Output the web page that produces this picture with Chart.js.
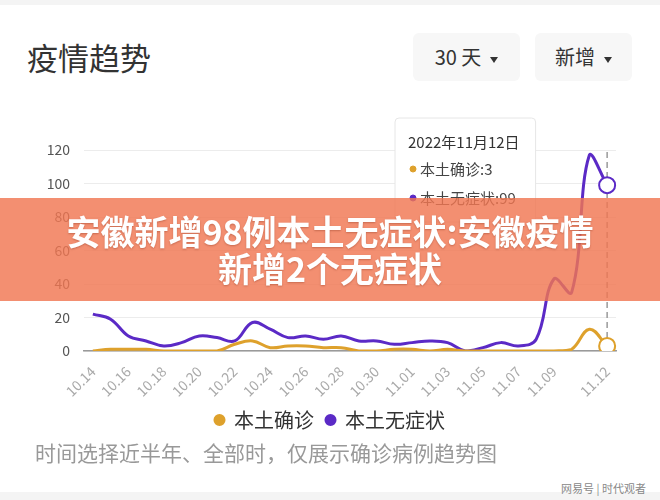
<!DOCTYPE html>
<html>
<head>
<meta charset="utf-8">
<script src="https://cdn.jsdelivr.net/npm/chart.js@4.4.0/dist/chart.umd.min.js"></script>
<style>
  html, body { margin:0; padding:0; }
  body { width:660px; height:500px; position:relative; overflow:hidden; background:#fff;
         font-family:"Noto Sans CJK SC","Noto Sans",sans-serif; }
  .strip { position:absolute; left:0; width:660px; background:#f4f4f4; }
  .title { position:absolute; left:27px; top:37px; font-size:31px; line-height:40px; color:#333; }
  .btn { position:absolute; top:33px; height:48px; background:#f7f7f7; border-radius:6px;
         font-size:20px; line-height:48px; color:#333; text-align:center; }
  .btn i { display:inline-block; width:0; height:0; margin-left:9px; vertical-align:middle;
           border-left:4px solid transparent; border-right:4px solid transparent; border-top:6px solid #333; }
  #wrap { position:absolute; left:0; top:100px; width:660px; height:340px; }
  .note { position:absolute; left:35px; top:437px; font-size:21px; line-height:30px; color:#999; }
  .mark { position:absolute; right:14px; top:480px; font-size:11px; line-height:16px; color:#888; }
  .banner { position:absolute; left:0; top:198px; width:660px; height:103px; background:rgba(240,118,82,0.82);
            color:#fff; font-weight:bold; font-size:34px; line-height:37px; text-align:center;
            padding-top:14px; box-sizing:border-box; text-shadow:0 1px 2px rgba(120,40,20,0.35); }
</style>
</head>
<body>
<div class="strip" style="top:0;height:5px"></div>
<div class="strip" style="top:492px;height:8px"></div>
<div class="title">疫情趋势</div>
<div class="btn" style="left:413px;width:107px">30 天<i></i></div>
<div class="btn" style="left:535px;width:97px">新增<i></i></div>
<div id="wrap"><canvas id="trend"></canvas></div>
<div class="note">时间选择近半年、全部时，仅展示确诊病例趋势图</div>
<div class="mark">网易号 | 时代观者</div>
<div class="banner">安徽新增98例本土无症状:安徽疫情<br>新增2个无症状</div>
<script>
// daily new cases, 2022-10-14 .. 2022-11-12
const days = ['10.14','10.15','10.16','10.17','10.18','10.19','10.20','10.21','10.22','10.23',
  '10.24','10.25','10.26','10.27','10.28','10.29','10.30','10.31','11.01','11.02',
  '11.03','11.04','11.05','11.06','11.07','11.08','11.09','11.10','11.11','11.12'];
const confirmed = [0,1,1,1,0,0,0,0,4,6, 2,3,3,2,2,0,0,1,1,0, 1,0,0,0,0,0,0,1,13,3];
const asymptomatic = [22,19,9,6,3,5,9,8,6,17, 13,8,9,7,9,6,6,4,5,6, 5,0,2,5,3,7,43,35,117,99];
const yTicks = [0,20,40,60,80,100,120];
const seriesNames = ['本土确诊','本土无症状'];
const colors = ['#dea12c','#5b2ac6'];
const year = 2022;
const activeIndex = days.length - 1;

Chart.defaults.font.family = '"Noto Sans CJK SC","Noto Sans",sans-serif';

// fixed spot for the tooltip box (top-left of it)
Chart.Tooltip.positioners.fixedBox = function(){ return { x: 399, y: 18 }; };

const dashLine = {
  id: 'dashLine',
  beforeDatasetsDraw(chart){
    const x = chart.scales.x.getPixelForValue(activeIndex);
    const { top, bottom } = chart.chartArea;
    const ctx = chart.ctx;
    ctx.save();
    ctx.strokeStyle = '#9a9a9a'; ctx.lineWidth = 1.5; ctx.setLineDash([6,4]);
    ctx.beginPath(); ctx.moveTo(x, top + 2); ctx.lineTo(x, bottom); ctx.stroke();
    ctx.restore();
  }
};

function lineSet(i, data){
  return {
    label: seriesNames[i], data,
    borderColor: colors[i], backgroundColor: colors[i],
    borderWidth: 3, tension: 0.4, pointRadius: 0,
    pointHoverRadius: 8, pointHoverBorderWidth: 2,
    pointHoverBackgroundColor: '#fff', pointHoverBorderColor: colors[i]
  };
}

const chart = new Chart(document.getElementById('trend'), {
  type: 'line',
  data: { labels: days, datasets: [lineSet(0, confirmed), lineSet(1, asymptomatic)] },
  options: {
    responsive: true, maintainAspectRatio: false, animation: false, events: [],
    layout: { padding: { top: 50, right: 44, left: 44, bottom: 0 } },
    interaction: { mode: 'index', intersect: false },
    scales: {
      x: {
        offset: true,
        grid: { display: false },
        border: { display: true, color: '#9a9a9a', width: 1.5 },
        ticks: {
          autoSkip: false, minRotation: 45, maxRotation: 45, color: '#aaa', font: { size: 14 }, padding: 4,
          callback: (v, i) => (i === activeIndex || (i % 2 === 0 && i < activeIndex - 1)) ? days[i] : null
        },
        afterFit: s => { s.height = 47; }
      },
      y: {
        min: 0, max: 120,
        afterBuildTicks: s => { s.ticks = yTicks.map(v => ({ value: v })); },
        grid: { color: '#ececec', drawTicks: false },
        border: { display: false },
        ticks: { color: '#555', font: { size: 14 }, padding: 14 },
        afterFit: s => { s.width = 40; }
      }
    },
    plugins: {
      legend: {
        position: 'bottom',
        labels: { usePointStyle: true, boxWidth: 9, boxHeight: 6.4, padding: 12, color: '#333', font: { size: 20 } }
      },
      tooltip: {
        position: 'fixedBox', xAlign: 'left', yAlign: 'top',
        caretSize: 0, caretPadding: 0, cornerRadius: 4,
        backgroundColor: '#fff', borderColor: '#e6e6e6', borderWidth: 1,
        titleColor: '#333', bodyColor: '#444',
        titleFont: { size: 15, weight: 'normal' }, bodyFont: { size: 15 },
        padding: { top: 15, bottom: 15, left: 13, right: 16 },
        titleMarginBottom: 9, bodySpacing: 11,
        usePointStyle: true, boxWidth: 10, boxHeight: 6,
        callbacks: {
          title: items => {
            const [m, d] = items[0].label.split('.').map(Number);
            return year + '年' + m + '月' + d + '日';
          },
          label: ctx => ctx.dataset.label + ':' + ctx.parsed.y,
          labelColor: ctx => ({ borderColor: colors[ctx.datasetIndex], backgroundColor: colors[ctx.datasetIndex] })
        }
      }
    }
  },
  plugins: [dashLine]
});

const act = [{ datasetIndex: 0, index: activeIndex }, { datasetIndex: 1, index: activeIndex }];
chart.setActiveElements(act);
chart.tooltip.setActiveElements(act, { x: 0, y: 0 });
chart.update('none');
</script>
</body>
</html>
